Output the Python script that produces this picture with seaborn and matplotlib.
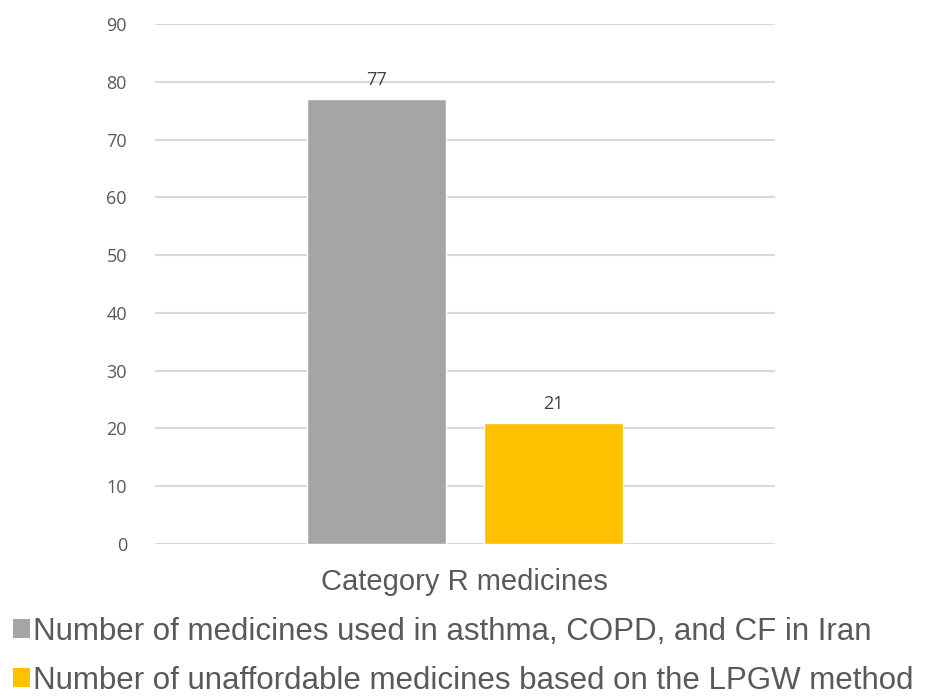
import matplotlib
matplotlib.use('Agg')
import matplotlib.pyplot as plt
import seaborn as sns
import pandas as pd
from matplotlib.patches import Patch

category = ["Category R medicines"]
series = [
    "Number of medicines used in asthma, COPD, and CF in Iran",
    "Number of unaffordable medicines based on the LPGW method",
]
values = [77, 21]
colors = ["#A5A5A5", "#FFC000"]

df = pd.DataFrame({"cat": category * len(series), "series": series, "value": values})

sns.set_style("white")
narrow = ["Liberation Sans Narrow", "Liberation Sans", "DejaVu Sans"]

fig = plt.figure(figsize=(9.38, 6.99), dpi=100)
ax = fig.add_axes([0.165, 0.2217, 0.661, 0.744])

sns.barplot(data=df, x="cat", y="value", hue="series", palette=colors,
            width=0.571, gap=0.215, saturation=1, ax=ax, legend=False)

ax.set_ylim(0, 90)
ax.set_yticks(range(0, 91, 10))
ax.set_xlim(-0.5, 0.5)
ax.yaxis.grid(True, color="#D9D9D9", linewidth=1.5)
ax.set_axisbelow(True)
for s in ax.spines.values():
    s.set_visible(False)
ax.tick_params(axis="y", length=0, pad=20, labelsize=13, labelcolor="#595959")
ax.tick_params(axis="x", length=0, pad=17)
for t in ax.get_yticklabels():
    t.set_family(["Open Sans", "DejaVu Sans"])
for t in ax.get_xticklabels():
    t.set_family(narrow)
    t.set_fontsize(21)
    t.set_color("#595959")
ax.set_xlabel("")
ax.set_ylabel("")

for c in ax.containers:
    ax.bar_label(c, padding=7, fontsize=13, color="#404040", family=["Open Sans", "DejaVu Sans"])

handles = [Patch(facecolor=col, edgecolor="none") for col in colors]
fig.legend(handles, series, loc="lower left", bbox_to_anchor=(-0.006, -0.022),
           frameon=False, prop={"family": narrow, "size": 22.5},
           labelcolor="#595959", handlelength=0.55, handleheight=0.55,
           handletextpad=0.08, labelspacing=0.6, borderaxespad=0.2)

fig.savefig("out.png", dpi=100)
